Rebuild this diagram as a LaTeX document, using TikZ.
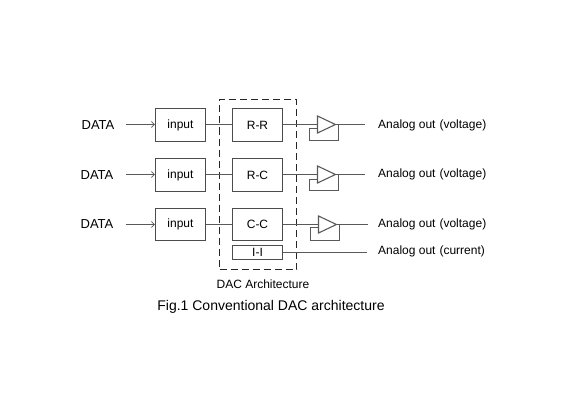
\documentclass[tikz,border=0pt]{standalone}
\usepackage{fontspec}
\setmainfont{Liberation Sans}
\usetikzlibrary{arrows.meta}
\tikzset{
  blk/.style={draw=black!70,line width=1.1pt,minimum width=50pt,inner sep=0pt,font=\fontsize{12}{14}\selectfont,text=black},
  wire/.style={draw=black!65,line width=1.1pt},
  arr/.style={wire,-{Straight Barb[length=3pt,width=6pt,line width=0.7pt]}},
  lbl/.style={inner sep=0pt,font=\fontsize{12}{14}\selectfont,text=black},
  amp/.style={draw=black!65,line width=1.1pt,line join=miter}
}
\begin{document}
\begin{tikzpicture}[x=1pt,y=-1pt]
\useasboundingbox (0,0) rectangle (568,420);
% dashed frame
\node[draw=black!85,line width=1.3pt,dash pattern=on 7pt off 4pt,minimum width=77pt,minimum height=170pt,inner sep=0pt] (frame) at (258,184.5) {};
% input blocks
\node[blk,minimum height=33pt] (in1) at (180.5,125) {input};
\node[blk,minimum height=33pt] (in2) at (180.5,175) {input};
\node[blk,minimum height=32pt] (in3) at (180.5,224.5) {input};
\node[blk,minimum height=33pt] (rr) at (257.5,125) {R-R};
\node[blk,minimum height=33pt] (rc) at (257.5,175) {R-C};
\node[blk,minimum height=32pt] (cc) at (257.5,224.5) {C-C};
\node[blk,minimum height=14pt] (ii) at (257.5,252.5) {I-I};
% labels
\node[lbl,font=\fontsize{13}{15}\selectfont] (d1) at (98,125) {DATA};
\node[lbl,font=\fontsize{13}{15}\selectfont] (d2) at (97,175) {DATA};
\node[lbl,font=\fontsize{13}{15}\selectfont] (d3) at (97,224.5) {DATA};
\node[lbl,anchor=west] (o1) at (378,125) {Analog out\,\,(voltage)};
\node[lbl,anchor=west] (o2) at (378,174.5) {Analog out\,\,(voltage)};
\node[lbl,anchor=west] (o3) at (378,224.5) {Analog out\,\,(voltage)};
\node[lbl,anchor=west] (o4) at (378,251.5) {Analog out\,\,(current)};
\node[lbl] (cap) at (263,284) {DAC Architecture};
\node[inner sep=0pt,font=\fontsize{14}{16}\selectfont,text=black] (fig) at (271,307) {Fig.1 Conventional DAC architecture};
% amplifiers
\foreach \n/\xa/\yc/\ft/\fb/\xe in {1/317.5/124.5/128.5/140.5/365, 2/317.5/174.5/179.5/190.5/365, 3/318.5/224.5/227.5/240.5/367.5}{
  \coordinate (a\n) at (\xa,\yc);
  \coordinate (t\n) at (\xa+18,\yc);
  \coordinate (e\n) at (\xe,\yc);
  \draw[amp] (\xa,\yc-8.5) -- (\xa,\yc+8.5) -- (\xa+18,\yc) -- cycle;
  \draw[wire] (t\n) -- (e\n);
  \draw[wire] (\xa+21,\yc) |- (\xa-8,\fb) |- (\xa,\ft);
}
\coordinate (s1) at (126,124.5);
\coordinate (s2) at (126,174.5);
\coordinate (s3) at (126,224.5);
\draw[arr] (s1) -- (s1 -| in1.west);
\draw[arr] (s2) -- (s2 -| in2.west);
\draw[arr] (s3) -- (s3 -| in3.west);
\draw[wire] (in1.east |- s1) -- (rr.west |- s1);
\draw[wire] (in2.east |- s2) -- (rc.west |- s2);
\draw[wire] (in3.east |- s3) -- (cc.west |- s3);
\draw[wire] (rr.east |- s1) -- (a1);
\draw[wire] (rc.east |- s2) -- (a2);
\draw[wire] (cc.east |- s3) -- (a3);
\coordinate (e4) at (367,252.5);
\draw[wire] (ii) -- (e4);
\end{tikzpicture}
\end{document}
